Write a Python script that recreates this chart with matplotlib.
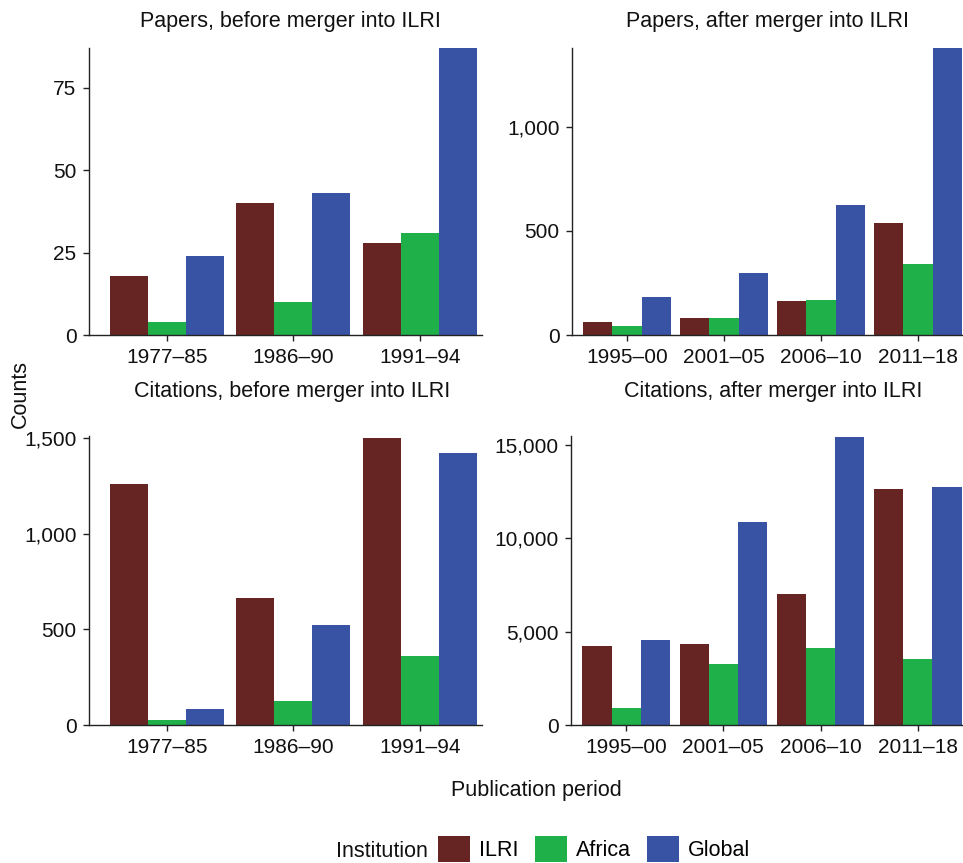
import matplotlib
matplotlib.use("Agg")
import matplotlib.pyplot as plt
from matplotlib.patches import Patch
from matplotlib.ticker import FuncFormatter
import numpy as np

plt.rcParams['font.family'] = ['Liberation Sans', 'DejaVu Sans']

# ---- data ----
institutions = ["ILRI", "Africa", "Global"]
colors = ["#662523", "#1fb04a", "#3953a4"]

periods_before = ["1977–85", "1986–90", "1991–94"]
periods_after = ["1995–00", "2001–05", "2006–10", "2011–18"]

papers_before_ilri = [18, 40, 28]
papers_before_africa = [4, 10, 31]
papers_before_global = [24, 43, 87]

papers_after_ilri = [64, 83, 165, 538]
papers_after_africa = [45, 83, 169, 342]
papers_after_global = [184, 299, 625, 1377]

cit_before_ilri = [1261, 663, 1502]
cit_before_africa = [28, 127, 361]
cit_before_global = [85, 522, 1422]

cit_after_ilri = [4245, 4351, 7026, 12645]
cit_after_africa = [927, 3281, 4138, 3548]
cit_after_global = [4566, 10879, 15430, 12752]

titles = ["Papers, before merger into ILRI", "Papers, after merger into ILRI",
          "Citations, before merger into ILRI", "Citations, after merger into ILRI"]

W, H = 963, 863
fig = plt.figure(figsize=(W / 100, H / 100), dpi=100)

def add_ax(l, r, t, b):
    return fig.add_axes([l / W, 1 - b / H, (r - l) / W, (b - t) / H])

panels = [
    (add_ax(89, 482, 48, 335), periods_before,
     [papers_before_ilri, papers_before_africa, papers_before_global],
     [0, 25, 50, 75], (-0.613, 2.49), 87.1, (290, 22)),
    (add_ax(572, 962, 48, 335), periods_after,
     [papers_after_ilri, papers_after_africa, papers_after_global],
     [0, 500, 1000], (-0.567, 3.454), 1377, (767, 22)),
    (add_ax(89, 482, 436, 725), periods_before,
     [cit_before_ilri, cit_before_africa, cit_before_global],
     [0, 500, 1000, 1500], (-0.613, 2.49), 1510, (292, 392)),
    (add_ax(571, 962, 436, 725), periods_after,
     [cit_after_ilri, cit_after_africa, cit_after_global],
     [0, 5000, 10000, 15000], (-0.567, 3.454), 15480, (773, 392)),
]

fmt = FuncFormatter(lambda v, p: f"{int(v):,}")
bw = 0.3
TXT = 15.5
TICK = 15
for (ax, cats, series, yt, xl, ytop, (tx, ty)), title in zip(panels, titles):
    x = np.arange(len(cats))
    for i, (vals, c) in enumerate(zip(series, colors)):
        ax.bar(x + (i - 1) * bw, vals, width=bw, color=c, linewidth=0, zorder=1)
    ax.set_xlim(*xl)
    ax.set_ylim(0, ytop)
    ax.set_xticks(x)
    ax.set_xticklabels(cats)
    ax.set_yticks(yt)
    ax.yaxis.set_major_formatter(fmt)
    for s in ["top", "right"]:
        ax.spines[s].set_visible(False)
    for s in ["left", "bottom"]:
        ax.spines[s].set_linewidth(1.0)
        ax.spines[s].set_color("#222222")
        ax.spines[s].set_zorder(3)
    ax.tick_params(axis="both", length=4, width=1, color="#222222",
                   labelsize=TICK, labelcolor="#111111", pad=5)
    fig.text(tx / W, 1 - ty / H, title, ha="center", va="center",
             fontsize=TXT, color="#111111")

fig.text(20 / W, 1 - 394 / H, "Counts", rotation=90, ha="center", va="center",
         fontsize=TXT, color="#111111")
fig.text(536 / W, 1 - 790 / H, "Publication period", ha="center", va="center",
         fontsize=TXT, color="#111111")

handles = [Patch(facecolor=c, edgecolor="none", label=n) for c, n in zip(colors, institutions)]
fig.text(428 / W, 1 - 851 / H, "Institution", ha="right", va="center",
         fontsize=TXT, color="#111111")
fig.legend(handles=handles, loc="center left", bbox_to_anchor=(438 / W, 1 - 849 / H),
           ncol=3, frameon=False, fontsize=TXT, handlelength=1.49, handleheight=1.45,
           handletextpad=0.42, columnspacing=0.75, borderpad=0, borderaxespad=0)

fig.savefig("out.png", dpi=100)
